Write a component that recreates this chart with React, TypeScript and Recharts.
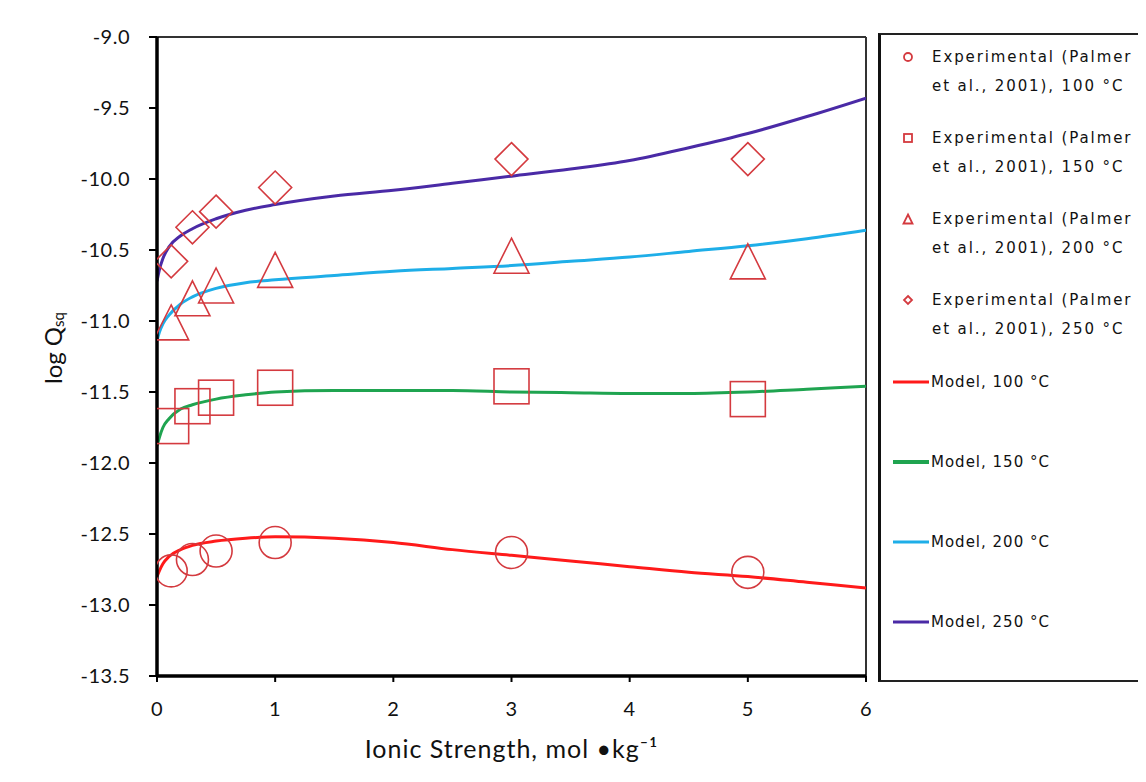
import { ComposedChart, Line, Scatter, XAxis, YAxis, ReferenceLine, Label } from 'recharts';

// model curves
const modelX = [0, 0.02, 0.05, 0.1, 0.2, 0.3, 0.5, 0.75, 1, 1.5, 2, 2.5, 3, 3.5, 4, 4.5, 5, 5.5, 6];
const model100 = [-12.8, -12.76, -12.71, -12.66, -12.61, -12.58, -12.55, -12.53, -12.52, -12.53, -12.56, -12.61, -12.65, -12.69, -12.73, -12.77, -12.8, -12.84, -12.88];
const model150 = [-11.88, -11.82, -11.75, -11.69, -11.62, -11.59, -11.55, -11.52, -11.5, -11.49, -11.49, -11.49, -11.5, -11.505, -11.51, -11.51, -11.5, -11.48, -11.46];
const model200 = [-11.14, -11.08, -11.02, -10.96, -10.88, -10.83, -10.77, -10.73, -10.71, -10.68, -10.65, -10.63, -10.61, -10.58, -10.55, -10.51, -10.47, -10.42, -10.36];
const model250 = [-10.72, -10.64, -10.56, -10.48, -10.4, -10.35, -10.28, -10.22, -10.18, -10.12, -10.08, -10.03, -9.98, -9.93, -9.87, -9.78, -9.68, -9.56, -9.43];

// Palmer et al., 2001
const expX = [0.12, 0.3, 0.5, 1, 3, 5];
const exp100 = [-12.76, -12.68, -12.62, -12.56, -12.63, -12.77];
const exp150 = [-11.74, -11.6, -11.54, -11.47, -11.46, -11.55];
const exp200 = [-11.01, -10.84, -10.75, -10.64, -10.54, -10.58];
const exp250 = [-10.58, -10.34, -10.23, -10.06, -9.86, -9.86];

const xTicks = [0, 1, 2, 3, 4, 5, 6];
const yTicks = [-13.5, -13, -12.5, -12, -11.5, -11, -10.5, -10, -9.5, -9];

const temps = ['100', '150', '200', '250'];
const lineColors = ['#ff1a1a', '#1fa450', '#1eaee8', '#4a2aa6'];
const markerKinds = ['circle', 'square', 'triangle', 'diamond'];
const MARKER = '#d43a3f';

const toPoints = (xs: number[], ys: number[]) => xs.map((x, i) => ({ x, y: ys[i] }));

function Marker({ kind, cx, cy, r, sw = 1.6 }: { kind: string; cx: number; cy: number; r: number; sw?: number }) {
  if (kind === 'circle') return <circle cx={cx} cy={cy} r={r} fill="none" stroke={MARKER} strokeWidth={sw} />;
  if (kind === 'square') return <rect x={cx - r} y={cy - r} width={2 * r} height={2 * r} fill="none" stroke={MARKER} strokeWidth={sw} />;
  if (kind === 'triangle')
    return <polygon points={`${cx},${cy - r} ${cx + r},${cy + r} ${cx - r},${cy + r}`} fill="none" stroke={MARKER} strokeWidth={sw} />;
  return <polygon points={`${cx},${cy - r} ${cx + r},${cy} ${cx},${cy + r} ${cx - r},${cy}`} fill="none" stroke={MARKER} strokeWidth={sw} />;
}

const markerSize: Record<string, number> = { circle: 16, square: 17.5, triangle: 17.5, diamond: 16.5 };

const expSeries = [exp100, exp150, exp200, exp250];
const modelSeries = [model100, model150, model200, model250];

const FONT = 'Lato, "Open Sans", sans-serif';
const tickFont = { fontFamily: FONT, fontSize: 20, fill: '#111', letterSpacing: 0.5 };

function LegendBox() {
  const font = { fontFamily: '"DejaVu Sans", sans-serif', fontSize: 15, fill: '#111', letterSpacing: 1.9 };
  const expRows = [57, 138, 219, 300];
  const modelRows = [382, 462, 542, 622];
  return (
    <div style={{ position: 'absolute', left: 870, top: 25, width: 300, height: 649, boxSizing: 'border-box', border: '2px solid #222', borderLeft: '3px solid #111', background: '#fff' }}>
      <svg width={300} height={645} style={{ position: 'absolute', left: -3, top: -2 }}>
        {temps.map((t, i) => {
          const y = expRows[i] - 33;
          return (
            <g key={'e' + t}>
              <Marker kind={markerKinds[i]} cx={30} cy={y} r={i === 2 ? 4.5 : 4} sw={1.8} />
              <text x={54} y={y} dominantBaseline="central" {...font}>Experimental (Palmer</text>
              <text x={54} y={y + 29} dominantBaseline="central" {...font}>{`et al., 2001), ${t} °C`}</text>
            </g>
          );
        })}
        {temps.map((t, i) => {
          const y = modelRows[i] - 33;
          return (
            <g key={'m' + t}>
              <line x1={15} x2={51} y1={y} y2={y} stroke={lineColors[i]} strokeWidth={i === 1 ? 4 : 3} />
              <text x={53} y={y} dominantBaseline="central" {...font} letterSpacing={1}>{`Model, ${t} °C`}</text>
            </g>
          );
        })}
      </svg>
    </div>
  );
}

export default function App() {
  return (
    <div style={{ position: 'relative', width: 1138, height: 766, overflow: 'hidden', background: '#fff' }}>
      <ComposedChart width={1138} height={766} margin={{ top: 29, right: 280, bottom: 8, left: 69 }}>
        <XAxis
          type="number"
          dataKey="x"
          domain={[0, 6]}
          ticks={xTicks}
          allowDataOverflow
          height={90}
          tickSize={6}
          tickMargin={20}
          axisLine={{ stroke: '#000', strokeWidth: 3.5 }}
          tickLine={{ stroke: '#000', strokeWidth: 2 }}
          tick={tickFont}
        >
          <Label
            content={({ viewBox }: any) => (
              <text x={viewBox.x + viewBox.width / 2} y={740} textAnchor="middle" dominantBaseline="central" fontFamily={FONT} fontSize={25} letterSpacing={1} fill="#111">
                Ionic Strength, mol •kg⁻¹
              </text>
            )}
          />
        </XAxis>
        <YAxis
          type="number"
          dataKey="y"
          domain={[-13.5, -9]}
          ticks={yTicks}
          allowDataOverflow
          width={80}
          tickSize={8}
          tickMargin={19}
          tickFormatter={(v: number) => v.toFixed(1)}
          axisLine={{ stroke: '#000', strokeWidth: 3.5 }}
          tickLine={{ stroke: '#000', strokeWidth: 2 }}
          tick={tickFont}
        >
          <Label
            content={() => (
              <text x={44} y={340} transform="rotate(-90 44 340)" textAnchor="middle" dominantBaseline="central" fontFamily={FONT} fontSize={24} fill="#111">
                log Q<tspan fontSize={15} dy={6}>sq</tspan>
              </text>
            )}
          />
        </YAxis>
        <ReferenceLine y={-9} stroke="#333" strokeWidth={2} />
        <ReferenceLine x={6} stroke="#333" strokeWidth={2} />
        {modelSeries.map((ys, i) => (
          <Line
            key={'model' + temps[i]}
            data={toPoints(modelX, ys)}
            dataKey="y"
            type="monotone"
            stroke={lineColors[i]}
            strokeWidth={3}
            dot={false}
            activeDot={false}
            isAnimationActive={false}
          />
        ))}
        {expSeries.map((ys, i) => (
          <Scatter
            key={'exp' + temps[i]}
            data={toPoints(expX, ys)}
            dataKey="y"
            isAnimationActive={false}
            shape={(p: any) => <Marker kind={markerKinds[i]} cx={p.cx} cy={p.cy} r={markerSize[markerKinds[i]]} />}
          />
        ))}
      </ComposedChart>
      <LegendBox />
    </div>
  );
}
